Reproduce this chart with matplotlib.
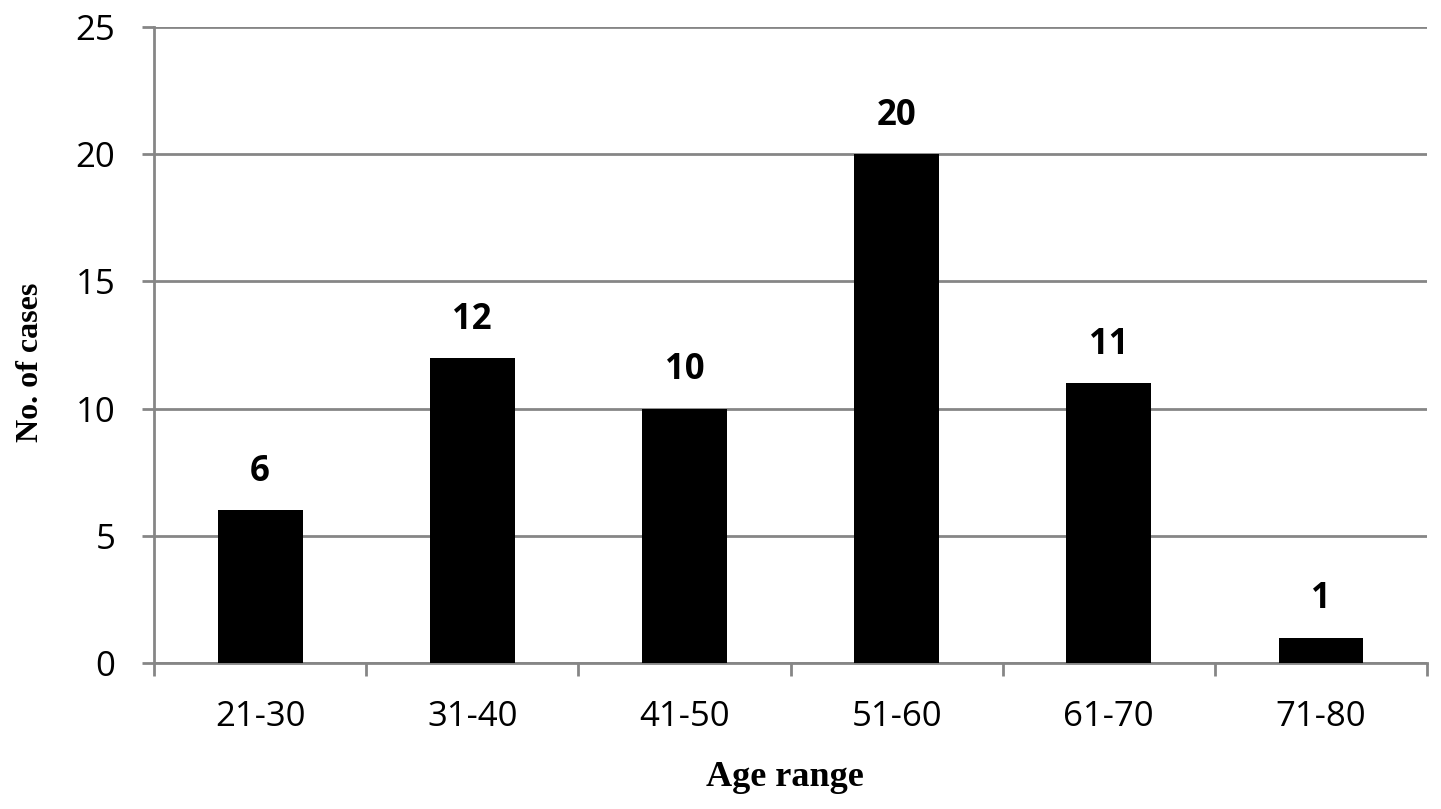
import matplotlib
matplotlib.use("Agg")
import matplotlib.pyplot as plt
import numpy as np

categories = ["21-30", "31-40", "41-50", "51-60", "61-70", "71-80"]
values = [6, 12, 10, 20, 11, 1]
yticks = [0, 5, 10, 15, 20, 25]

fig = plt.figure(figsize=(14.41, 8.09), dpi=100)
ax = fig.add_axes([0.1069, 0.1805, 0.9903 - 0.1069, 0.9666 - 0.1805])

x = np.arange(len(categories))
ax.bar(x, values, width=0.4, color="black", zorder=3)

grid_c = "#868686"
ax.set_xlim(-0.5, len(categories) - 0.5)
ax.set_ylim(0, 25)
ax.set_yticks(yticks)
ax.yaxis.grid(True, color=grid_c, linewidth=2, zorder=0)
ax.set_axisbelow(True)
for s in ["top", "right"]:
    ax.spines[s].set_visible(False)
for s in ["left", "bottom"]:
    ax.spines[s].set_color(grid_c)
    ax.spines[s].set_linewidth(2)

ax.set_xticks(x)
ax.set_xticklabels(categories, fontsize=25, family="Open Sans")
ax.tick_params(axis="x", length=0, pad=27)
ax.set_xticks(np.arange(-0.5, len(categories)), minor=True)
ax.tick_params(axis="x", which="minor", length=9, width=2, color=grid_c, direction="out")
ax.tick_params(axis="y", length=9, width=2, color=grid_c, pad=19, labelsize=25)
for lab in ax.get_yticklabels():
    lab.set_family("Open Sans")

for xi, v in zip(x, values):
    ax.annotate(str(v), (xi, v), xytext=(0, 21), textcoords="offset points",
                ha="center", va="baseline", fontsize=25, fontweight="bold", family="Open Sans")

ax.set_xlabel("Age range", fontsize=26, fontweight="bold", family="Liberation Serif", va="center")
ax.set_ylabel("No. of cases", fontsize=23, fontweight="bold", family="Liberation Serif", va="center")
ax.xaxis.set_label_coords((785 - 154) / 1273, (663 - 778) / 636)
ax.yaxis.set_label_coords((30 - 154) / 1273, (663 - 362) / 636)

fig.savefig("out.png", dpi=100)
